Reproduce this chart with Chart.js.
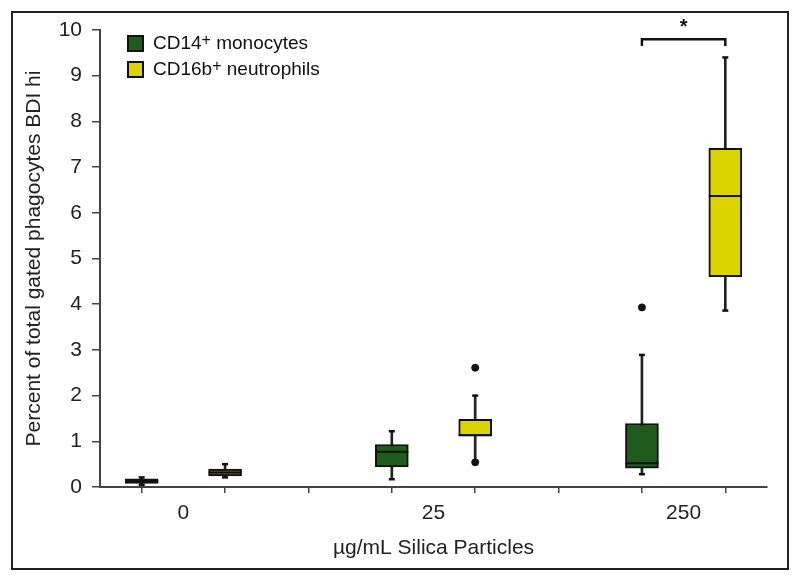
<!DOCTYPE html>
<html>
<head>
<meta charset="utf-8">
<title>Silica particles</title>
<script src="https://cdn.jsdelivr.net/npm/chart.js@4.4.1/dist/chart.umd.min.js"></script>
<style>
  html, body { margin: 0; padding: 0; background: #fff; }
  #wrap { position: relative; width: 800px; height: 582px; }
  #grafico { position: absolute; left: 0; top: 0; }
  #marco {
    position: absolute; left: 11px; top: 11px; width: 774px; height: 555px;
    border: 2px solid #222; pointer-events: none;
  }
  #leyenda {
    position: absolute; left: 127px; top: 30px;
    font-family: "Liberation Sans", Arial, sans-serif; font-size: 19px; color: #111;
  }
  .item { height: 26px; display: flex; align-items: center; }
  .cuadro { width: 13px; height: 13px; border: 2px solid #111; margin-right: 9px; }
  sup { font-size: 16px; line-height: 0; position: relative; top: -3px; }
</style>
</head>
<body>
<div id="wrap">
  <canvas id="grafico" width="800" height="582"></canvas>
  <div id="marco"></div>
  <div id="leyenda">
    <div class="item"><span class="cuadro" style="background:#1e5b1c"></span>CD14<sup>+</sup>&nbsp;monocytes</div>
    <div class="item"><span class="cuadro" style="background:#dcd400"></span>CD16b<sup>+</sup>&nbsp;neutrophils</div>
  </div>
</div>
<script>
// grupos del eje x
const grupos = ["0", "25", "250"];

// CD14+ monocitos (min, q1, mediana, q3, max, atipicos)
const monoMin = [0.05, 0.17, 0.28];
const monoQ1 = [0.08, 0.44, 0.41];
const monoMed = [0.13, 0.77, 0.52];
const monoQ3 = [0.18, 0.93, 1.39];
const monoMax = [0.21, 1.22, 2.89];
const monoAtip = [[], [], [3.93]];

// CD16b+ neutrofilos
const neutMin = [0.21, 0.54, 3.86];
const neutQ1 = [0.24, 1.12, 4.60];
const neutMed = [0.32, 1.13, 6.37];
const neutQ3 = [0.39, 1.48, 7.41];
const neutMax = [0.50, 2.00, 9.40];
const neutAtip = [[], [0.54, 2.61], []];

// marca de significancia sobre el grupo 250
const corcheteAlto = 9.80;
const corcheteBajo = 9.65;
const estrellaY = 10.13;

const verde = "#1e5b1c";
const amarillo = "#dcd400";
const oliva = "#6e6a14";
const negro = "#111";

// posicion de cada caja en el eje lineal: 3 unidades por grupo
const xMono = (i) => 3 * i + 0.5;
const xNeut = (i) => 3 * i + 1.5;

function cajas(xf, q1, q3) {
  return q1.map((v, i) => ({ x: xf(i), y: [v, q3[i]] }));
}
function bigotes(xf, min, max) {
  return min.map((v, i) => ({ x: xf(i), y: [v, max[i]] }));
}
function puntos(xf, arr) {
  return arr.map((v, i) => ({ x: xf(i), y: v }));
}
function atipicos(xf, arr) {
  let out = [];
  arr.forEach((lista, i) => lista.forEach((v) => out.push({ x: xf(i), y: v })));
  return out;
}

const fuente = "'Liberation Sans', Arial, sans-serif";

const estrella = {
  id: "estrella",
  afterDatasetsDraw(chart) {
    const { ctx, scales } = chart;
    ctx.save();
    ctx.fillStyle = negro;
    ctx.font = "bold 20px " + fuente;
    ctx.textAlign = "center";
    ctx.textBaseline = "middle";
    ctx.fillText("*", scales.x.getPixelForValue(7), scales.y.getPixelForValue(estrellaY) + 3);
    ctx.restore();
  },
};

const lineaBase = { type: "line", showLine: false, pointHoverRadius: 0 };

new Chart(document.getElementById("grafico"), {
  type: "bar",
  data: {
    datasets: [
      // atipicos
      Object.assign({}, lineaBase, {
        data: atipicos(xMono, monoAtip).concat(atipicos(xNeut, neutAtip)),
        pointStyle: "circle", pointRadius: 3.5, backgroundColor: negro, borderColor: negro,
        order: 0,
      }),
      // medianas
      Object.assign({}, lineaBase, {
        data: puntos(xMono, monoMed).concat(puntos(xNeut, neutMed)),
        pointStyle: "line", pointRadius: 16.5, borderColor: negro, borderWidth: 2,
        order: 1,
      }),
      // topes de los bigotes
      Object.assign({}, lineaBase, {
        data: puntos(xMono, monoMin).concat(puntos(xMono, monoMax), puntos(xNeut, neutMin), puntos(xNeut, neutMax)),
        pointStyle: "line", pointRadius: 3, borderColor: negro, borderWidth: 2.5,
        order: 1,
      }),
      // cajas
      {
        label: "CD14+ monocytes",
        data: cajas(xMono, monoQ1, monoQ3),
        backgroundColor: verde,
        borderColor: negro, borderWidth: 2, borderSkipped: false,
        barThickness: 33, grouped: false, order: 2,
      },
      {
        label: "CD16b+ neutrophils",
        data: cajas(xNeut, neutQ1, neutQ3),
        backgroundColor: [oliva, amarillo, amarillo],
        borderColor: negro, borderWidth: 2, borderSkipped: false,
        barThickness: 33, grouped: false, order: 2,
      },
      // bigotes
      {
        data: bigotes(xMono, monoMin, monoMax).concat(bigotes(xNeut, neutMin, neutMax)),
        backgroundColor: "#222", barThickness: 2, grouped: false, order: 3,
      },
      // corchete
      {
        type: "line",
        data: [
          { x: xMono(2), y: corcheteBajo }, { x: xMono(2), y: corcheteAlto },
          { x: xNeut(2), y: corcheteAlto }, { x: xNeut(2), y: corcheteBajo },
        ],
        borderColor: negro, borderWidth: 2.5, pointRadius: 0, fill: false, order: 1,
      },
    ],
  },
  options: {
    responsive: false,
    animation: false,
    events: [],
    layout: { padding: { top: 30, right: 33, left: 0, bottom: 0 } },
    plugins: { legend: { display: false }, tooltip: { enabled: false } },
    scales: {
      x: {
        type: "linear", min: 0, max: 8, offset: false,
        afterFit: (s) => { s.height = 95; },
        border: { color: "#444", width: 2 },
        grid: { drawOnChartArea: false, drawTicks: true, tickLength: 6, color: "#444", lineWidth: 1.5 },
        ticks: {
          stepSize: 1, autoSkip: false, maxRotation: 0, padding: 8,
          color: "#222", font: { family: fuente, size: 21 },
          callback: (v) => (v % 3 === 1 ? grupos[(v - 1) / 3] : ""),
        },
        title: {
          display: true, text: "µg/mL Silica Particles", color: "#222",
          font: { family: fuente, size: 21 }, padding: { top: 0, bottom: 21 },
        },
      },
      y: {
        min: 0, max: 10,
        afterFit: (s) => { s.width = 100; },
        border: { color: "#444", width: 2 },
        grid: { drawOnChartArea: false, drawTicks: true, tickLength: 8, color: "#444", lineWidth: 1.5 },
        ticks: { stepSize: 1, padding: 10, color: "#222", font: { family: fuente, size: 21 } },
        title: {
          display: true, text: "Percent of total gated phagocytes BDI hi", color: "#222",
          font: { family: fuente, size: 21 }, padding: { top: 22, bottom: 0 },
        },
      },
    },
  },
  plugins: [estrella],
});
</script>
</body>
</html>
